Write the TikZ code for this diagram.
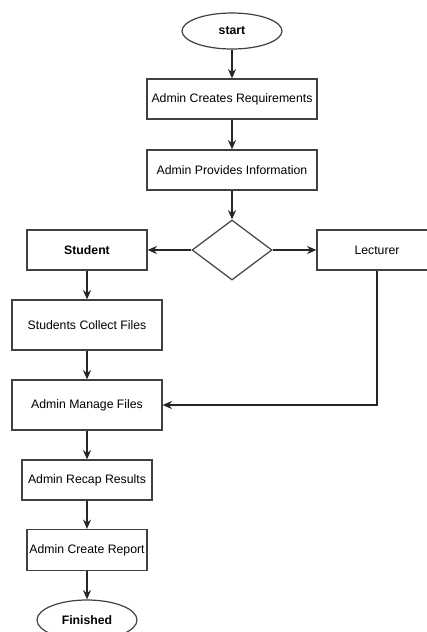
\documentclass[tikz,border=0pt]{standalone}
\usepackage{fontspec}
\setmainfont{Liberation Sans}
\usetikzlibrary{arrows.meta,shapes.geometric}

\begin{document}
\begin{tikzpicture}[x=0.75pt,y=0.75pt,yscale=-1,xscale=1,
	box/.style={draw=black!75,line width=0.9pt,rectangle,inner sep=0.75pt,font=\fontsize{9.2}{11}\selectfont},
	term/.style={draw=black!75,line width=0.9pt,ellipse,inner sep=0pt,minimum width=75pt,minimum height=27pt,font=\fontsize{9.2}{11}\selectfont\bfseries},
	flow/.style={draw=black!85,line width=1pt,-{Stealth[length=7pt,width=6pt]}}]
		%set diagram size to 427 x 632
		\useasboundingbox (0,0) rectangle (427,632);
		\clip (0,0) rectangle (427,632);
		
		%Shape: Ellipse [id:start]
		\node [term] (start) at (232,31) {start};
		%Shape: Rectangle [id:req]
		\node [box,minimum width=127.5pt,minimum height=30pt] (req) at (232,99) {Admin Creates Requirements};
		%Shape: Rectangle [id:info]
		\node [box,minimum width=127.5pt,minimum height=30pt] (info) at (232,170) {Admin Provides Information};
		%Shape: Diamond [id:choice]
		\node [draw=black!75,line width=0.9pt,diamond,inner sep=0pt,minimum width=60pt,minimum height=45pt] (choice) at (232,250) {};
		%Shape: Rectangle [id:student]
		\node [box,minimum width=90pt,minimum height=30pt,font=\fontsize{9.2}{11}\selectfont\bfseries] (student) at (87,250) {Student};
		%Shape: Rectangle [id:lecturer]
		\node [box,minimum width=90pt,minimum height=30pt] (lecturer) at (377,250) {Lecturer};
		%Shape: Rectangle [id:collect]
		\node [box,minimum width=112.5pt,minimum height=37.5pt] (collect) at (87,325) {Students Collect Files};
		%Shape: Rectangle [id:manage]
		\node [box,minimum width=112.5pt,minimum height=37.5pt] (manage) at (87,405) {Admin Manage Files};
		%Shape: Rectangle [id:recap]
		\node [box,minimum width=97.5pt,minimum height=30pt] (recap) at (87,480) {Admin Recap Results};
		%Shape: Rectangle [id:report]
		\node [box,minimum width=90pt,minimum height=30.75pt] (report) at (87,550) {Admin Create Report};
		%Shape: Ellipse [id:finished]
		\node [term,minimum height=30pt] (finished) at (87,620) {Finished};
		
		%Straight Lines
		\draw [flow] (start) -- (req);
		\draw [flow] (req) -- (info);
		\draw [flow] (info) -- (choice);
		\draw [flow] (choice.west) -- (student.east);
		\draw [flow] (choice.east) -- (lecturer.west);
		\draw [flow] (student) -- (collect);
		\draw [flow] (collect) -- (manage);
		\draw [flow] (lecturer.south) |- (manage.east);
		\draw [flow] (manage) -- (recap);
		\draw [flow] (recap) -- (report);
		\draw [flow] (report) -- (finished);
		
\end{tikzpicture}
\end{document}
